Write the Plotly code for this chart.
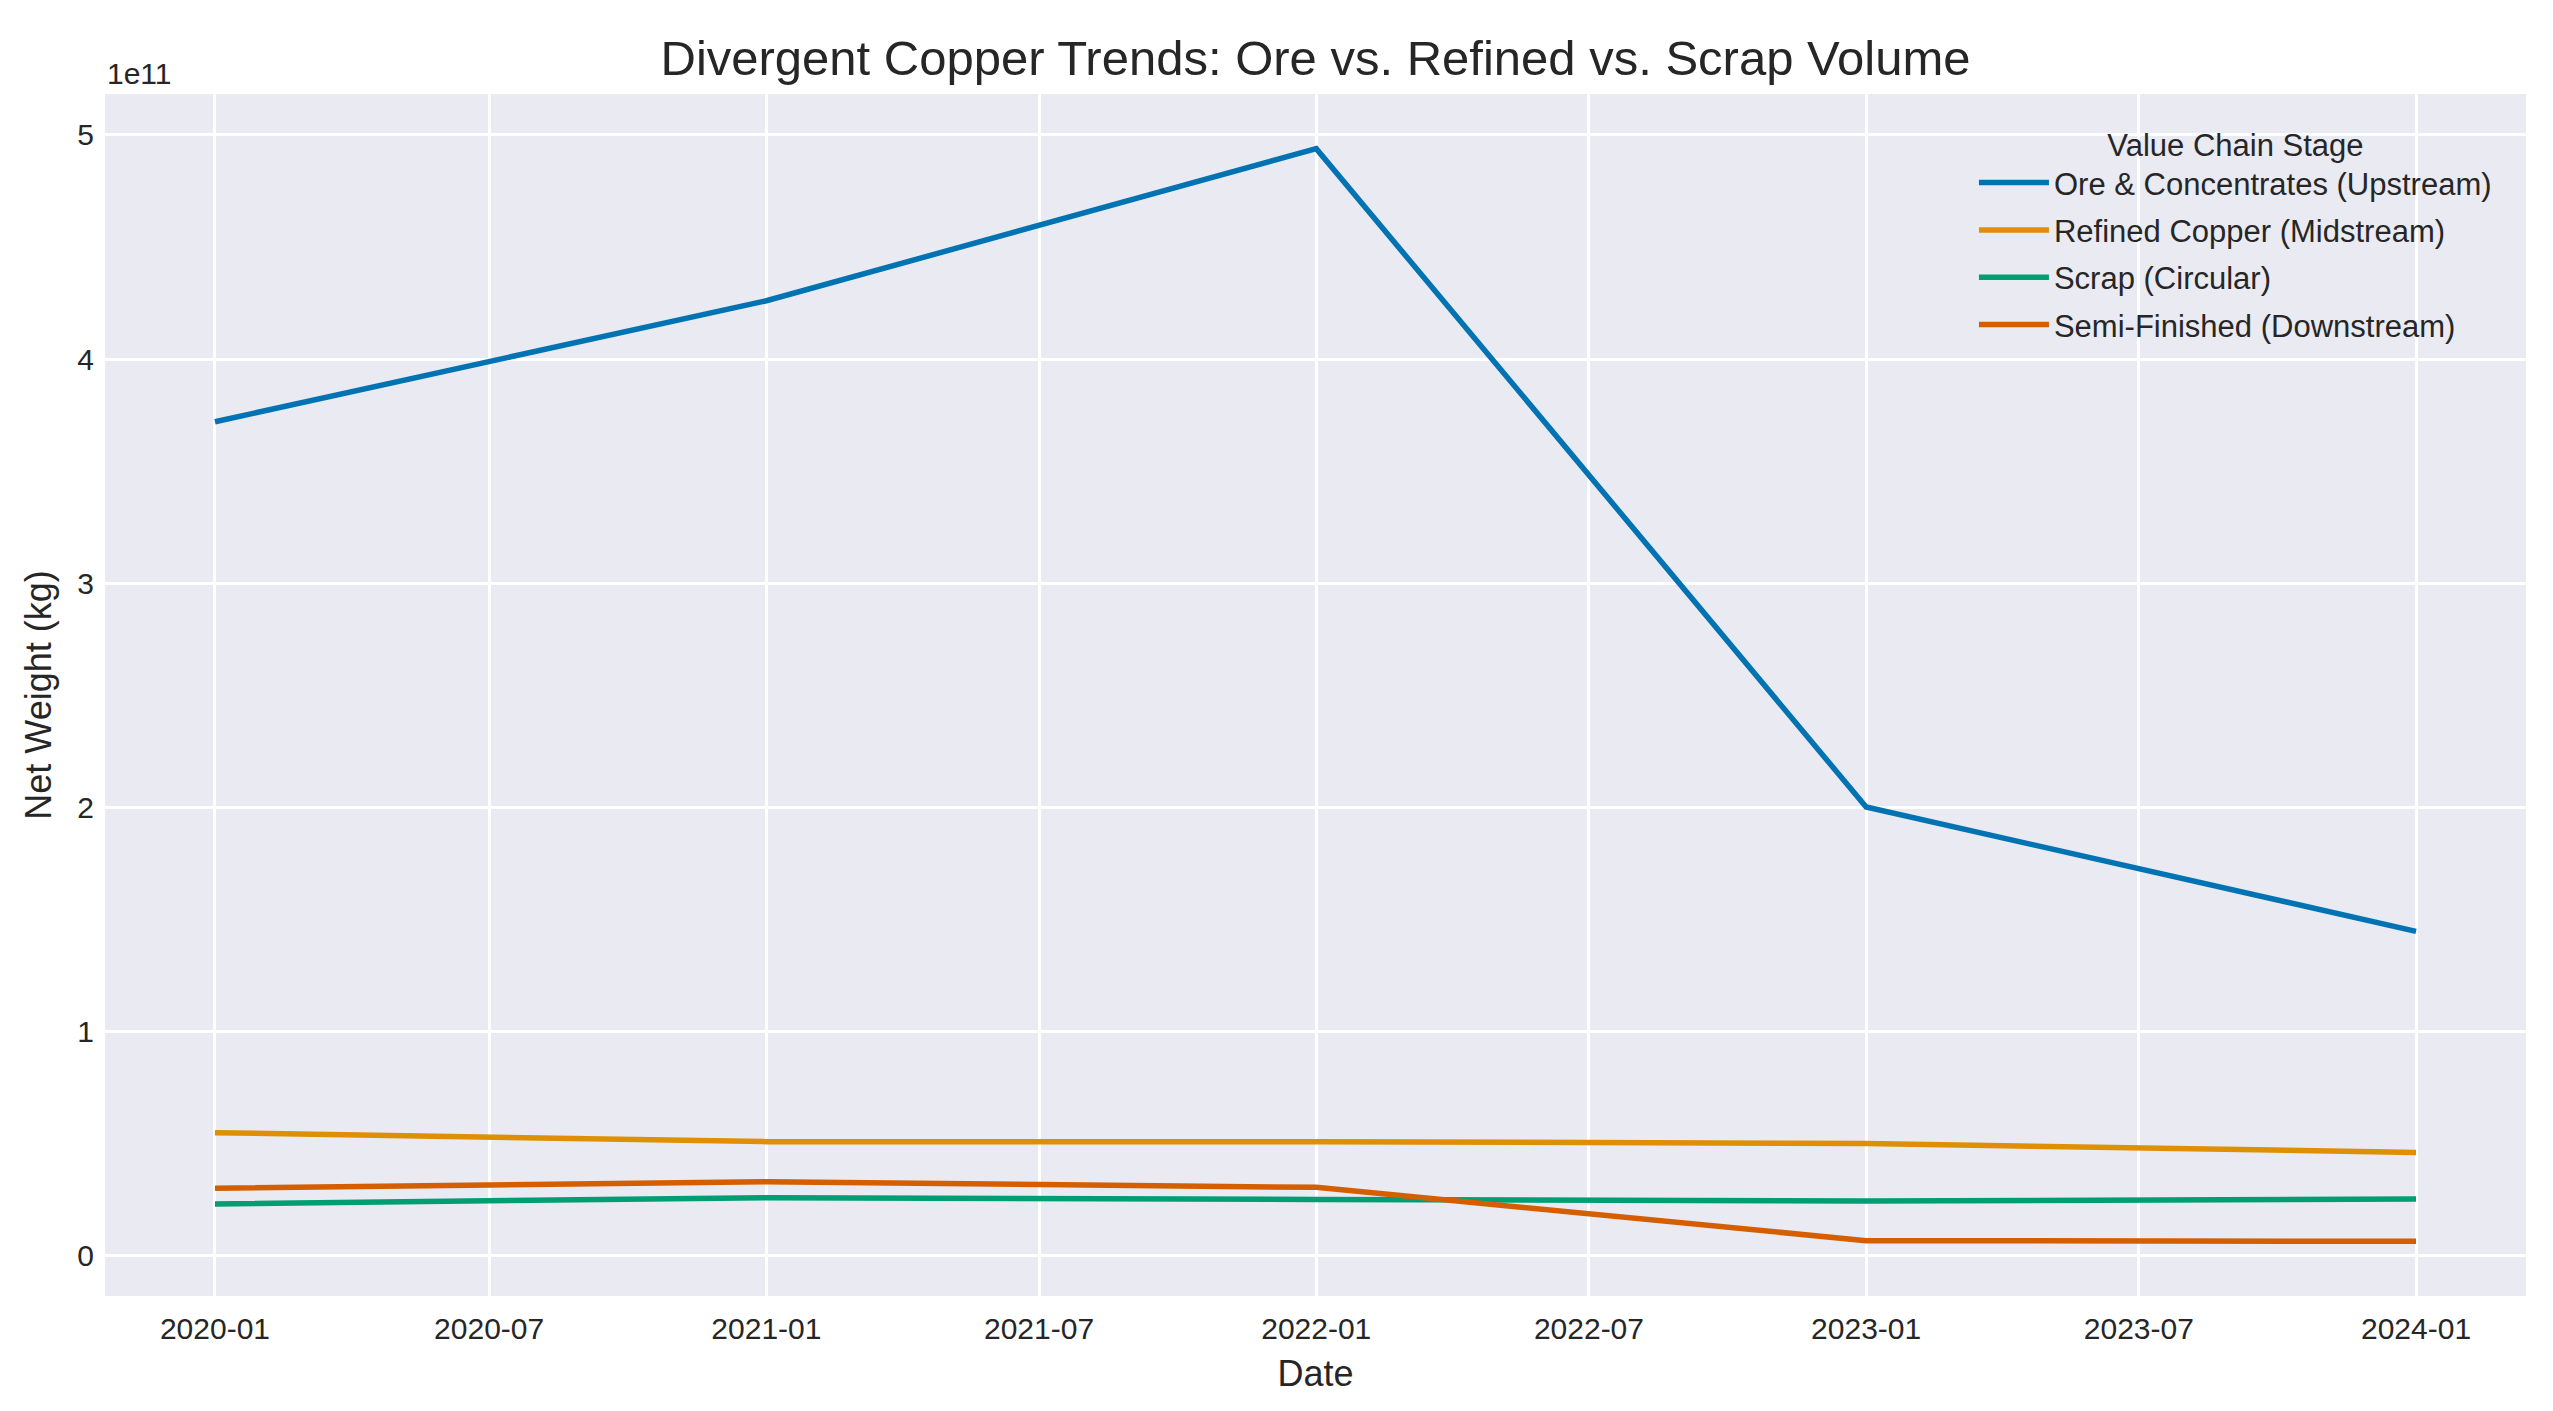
import plotly.graph_objects as go
import pandas as pd

dates = ["2020-01-01", "2021-01-01", "2022-01-01", "2023-01-01", "2024-01-01"]
series_names = [
    "Ore & Concentrates (Upstream)",
    "Refined Copper (Midstream)",
    "Scrap (Circular)",
    "Semi-Finished (Downstream)",
]
ore = [3.72e11, 4.26e11, 4.939e11, 2.00e11, 1.445e11]
refined = [5.46e10, 5.06e10, 5.06e10, 4.98e10, 4.58e10]
scrap = [2.28e10, 2.56e10, 2.48e10, 2.41e10, 2.50e10]
semi = [2.98e10, 3.27e10, 3.02e10, 0.64e10, 0.61e10]
colors = ["#0173b2", "#de8f05", "#029e73", "#d55e00"]

y_tick_vals = [0, 1e11, 2e11, 3e11, 4e11, 5e11]
y_tick_text = ["0", "1", "2", "3", "4", "5"]

FONT = "Liberation Sans"
TXT = "#262626"

W, H = 2553, 1411
L, R, T, B = 97, 35, 86, 123

fig = go.Figure()
for name, vals, c in zip(series_names, [ore, refined, scrap, semi], colors):
    fig.add_trace(go.Scatter(x=pd.to_datetime(dates), y=vals, mode="lines", name=name,
                             legendgroup=name, line=dict(color=c, width=5.5)))

start = pd.Timestamp(dates[0]) - pd.Timedelta(days=73)
end = pd.Timestamp(dates[-1]) + pd.Timedelta(days=73)

fig.update_layout(
    width=W, height=H,
    margin=dict(l=L, r=R, t=T, b=B, autoexpand=False),
    paper_bgcolor="white", plot_bgcolor="#eaeaf2",
    font=dict(family=FONT, size=30, color=TXT),
    title=dict(text="Divergent Copper Trends: Ore vs. Refined vs. Scrap Volume",
               x=0.5, xref="paper", xanchor="center", y=1 - 50/H, yanchor="middle",
               font=dict(size=49, color=TXT, family=FONT)),
    showlegend=True,
    legend=dict(title=dict(text="Value Chain Stage", side="top center", font=dict(size=31)),
                x=0.988, xanchor="right", y=0.982, yanchor="top", tracegroupgap=4,
                itemwidth=70,
                bgcolor="rgba(0,0,0,0)", font=dict(size=31)),
    xaxis=dict(title=dict(text="Date", standoff=16), range=[start, end],
               tickformat="%Y-%m", dtick="M6", tick0="2020-01-01",
               showgrid=True, gridcolor="white", gridwidth=2.5, zeroline=False,
               ticks="", ticklabelstandoff=12, showline=False, automargin=False),
    yaxis=dict(title=dict(text="Net Weight (kg)", standoff=14), range=[-0.183e11, 5.183e11],
               tickvals=y_tick_vals, ticktext=y_tick_text,
               showgrid=True, gridcolor="white", gridwidth=2.5, zeroline=False,
               ticks="", ticklabelstandoff=10, showline=False, automargin=False),
    annotations=[dict(text="1e11", xref="paper", yref="paper", x=0, y=1, xanchor="left",
                      yanchor="bottom", yshift=2, showarrow=False, font=dict(size=30, color=TXT))],
)

fig.write_html("out.html")
